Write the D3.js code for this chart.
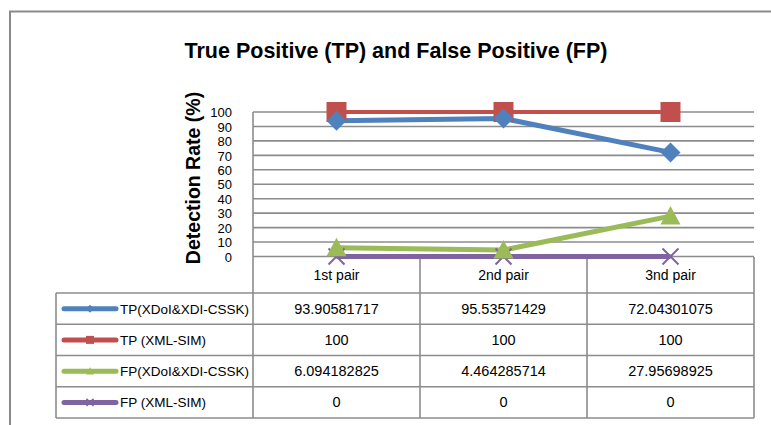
<!DOCTYPE html>
<html>
<head>
<meta charset="utf-8">
<script src="https://cdn.jsdelivr.net/npm/d3@7"></script>
<style>
  body { margin: 0; background: #fff; }
  svg { display: block; font-family: "Liberation Sans", Arial, sans-serif; }
</style>
</head>
<body>
<div id="chart"></div>
<script>
// data
const categories = ["1st pair", "2nd pair", "3nd pair"];
const seriesNames = ["TP(XDoI&XDI-CSSK)", "TP (XML-SIM)", "FP(XDoI&XDI-CSSK)", "FP (XML-SIM)"];
const tpXdoi = [93.90581717, 95.53571429, 72.04301075];
const tpXmlSim = [100, 100, 100];
const fpXdoi = [6.094182825, 4.464285714, 27.95698925];
const fpXmlSim = [0, 0, 0];
const yTicks = [0, 10, 20, 30, 40, 50, 60, 70, 80, 90, 100];

const colors = ["#4f81bd", "#c0504d", "#9bbb59", "#8064a2"];
const markers = ["diamond", "square", "triangle", "cross"];
const seriesValues = [tpXdoi, tpXmlSim, fpXdoi, fpXmlSim];

const series = seriesNames.map((name, i) => ({
  name: name, color: colors[i], marker: markers[i], values: seriesValues[i]
}));

const W = 771, H = 425;
const plot = {left: 253, right: 754, top: 112, bottom: 257};
const table = {left: 56, top: 293, bottom: 418};
const grid = "#8c8c8c";

const svg = d3.select("#chart").append("svg")
  .attr("width", W).attr("height", H);

// outer chart border (runs off the picture on right/bottom)
svg.append("path")
  .attr("d", "M10," + (H + 5) + "V11.5H" + (W + 5))
  .attr("fill", "none").attr("stroke", "#8a8a8a").attr("stroke-width", 2);

// title
svg.append("text")
  .attr("x", 396).attr("y", 58)
  .attr("text-anchor", "middle")
  .style("font-size", "21.5px").style("font-weight", "bold")
  .text("True Positive (TP) and False Positive (FP)");

const x = d3.scaleBand().domain(categories).range([plot.left, plot.right]);
const y = d3.scaleLinear().domain([0, 100]).range([plot.bottom - 0.5, plot.top]);

// gridlines
svg.append("g").selectAll("line")
  .data(yTicks)
  .join("line")
  .attr("x1", plot.left).attr("x2", plot.right)
  .attr("y1", d => y(d)).attr("y2", d => y(d))
  .attr("stroke", grid).attr("stroke-width", 1.6);

// y axis labels
const yAxis = d3.axisLeft(y).tickValues(yTicks).tickSize(0).tickPadding(0);
const ya = svg.append("g")
  .attr("transform", "translate(" + (plot.left - 21) + ",0)")
  .call(yAxis);
ya.select(".domain").remove();
ya.selectAll("text")
  .style("font-size", "13px").style("font-family", "'Liberation Sans', Arial, sans-serif")
  .attr("fill", "#000").attr("dy", "0.36em");

// y axis title
svg.append("text")
  .attr("transform", "translate(200," + 178 + ") rotate(-90)")
  .attr("text-anchor", "middle")
  .style("font-size", "19.5px").style("font-weight", "bold")
  .text("Detection Rate (%)");

// data table rows
const rowY = d3.scaleBand().domain(seriesNames).range([table.top, table.bottom]);

// category label row + table grid
const tg = svg.append("g").attr("stroke", grid).attr("stroke-width", 1.6).attr("fill", "none");
// vertical dividers through label row and table
tg.selectAll(".vdiv")
  .data(categories)
  .join("line")
  .attr("x1", d => x(d) + x.bandwidth()).attr("x2", d => x(d) + x.bandwidth())
  .attr("y1", plot.bottom).attr("y2", table.bottom);
tg.append("line")
  .attr("x1", plot.left).attr("x2", plot.left)
  .attr("y1", plot.top).attr("y2", table.bottom);
tg.append("line")
  .attr("x1", table.left).attr("x2", table.left)
  .attr("y1", table.top).attr("y2", table.bottom);
tg.selectAll(".hdiv")
  .data(seriesNames)
  .join("line")
  .attr("x1", table.left).attr("x2", plot.right)
  .attr("y1", d => rowY(d)).attr("y2", d => rowY(d));
tg.append("line")
  .attr("x1", table.left).attr("x2", plot.right)
  .attr("y1", table.bottom).attr("y2", table.bottom);

// category labels
svg.append("g").selectAll("text")
  .data(categories)
  .join("text")
  .attr("x", d => x(d) + x.bandwidth() / 2)
  .attr("y", (plot.bottom + table.top) / 2 + 5)
  .attr("text-anchor", "middle")
  .style("font-size", "14px")
  .text(d => d);

// marker shapes
function drawMarker(g, type, color, s) {
  if (type === "diamond") {
    g.append("path").attr("d", `M0,${-s}L${s},0L0,${s}L${-s},0Z`).attr("fill", color);
  } else if (type === "square") {
    g.append("rect").attr("x", -s).attr("y", -s).attr("width", 2 * s).attr("height", 2 * s).attr("fill", color);
  } else if (type === "triangle") {
    g.append("path").attr("d", `M0,${-s}L${s},${s * 0.85}L${-s},${s * 0.85}Z`).attr("fill", color);
  } else {
    g.append("path").attr("d", `M${-s},${-s}L${s},${s}M${-s},${s}L${s},${-s}`)
      .attr("stroke", color).attr("stroke-width", s > 5 ? 2 : 1.6).attr("fill", "none");
  }
}

const markerSize = {diamond: 10, square: 10, triangle: 10, cross: 8};
const lineWidth = [5, 4, 5, 5];

// lines
const line = d3.line()
  .x((d, i) => x(categories[i]) + x.bandwidth() / 2)
  .y(d => y(d));

// draw in reverse so blue sits on top of red like the original
const order = [3, 2, 1, 0];
order.forEach(k => {
  const s = series[k];
  svg.append("path")
    .datum(s.values)
    .attr("fill", "none")
    .attr("stroke", s.color)
    .attr("stroke-width", lineWidth[k])
    .attr("stroke-linejoin", "round")
    .attr("d", line);
});
order.forEach(k => {
  const s = series[k];
  s.values.forEach((v, i) => {
    const g = svg.append("g")
      .attr("transform", "translate(" + (x(categories[i]) + x.bandwidth() / 2) + "," + y(v) + ")");
    drawMarker(g, s.marker, s.color, markerSize[s.marker]);
  });
});

// table contents
series.forEach((s, k) => {
  const cy = rowY(s.name) + rowY.bandwidth() / 2;
  const lg = svg.append("g");
  lg.append("line")
    .attr("x1", 64).attr("x2", 116).attr("y1", cy).attr("y2", cy)
    .attr("stroke", s.color).attr("stroke-width", 5).attr("stroke-linecap", "round");
  const mg = lg.append("g").attr("transform", "translate(90," + cy + ")");
  drawMarker(mg, s.marker, s.color, s.marker === "cross" ? 3.5 : 4);
  svg.append("text")
    .attr("x", 120).attr("y", cy + 5)
    .style("font-size", "13.5px")
    .text(s.name);
  svg.append("g").selectAll("text")
    .data(s.values)
    .join("text")
    .attr("x", (d, i) => x(categories[i]) + x.bandwidth() / 2)
    .attr("y", cy + 5)
    .attr("text-anchor", "middle")
    .style("font-size", "14.5px")
    .text(d => String(d));
});
</script>
</body>
</html>
